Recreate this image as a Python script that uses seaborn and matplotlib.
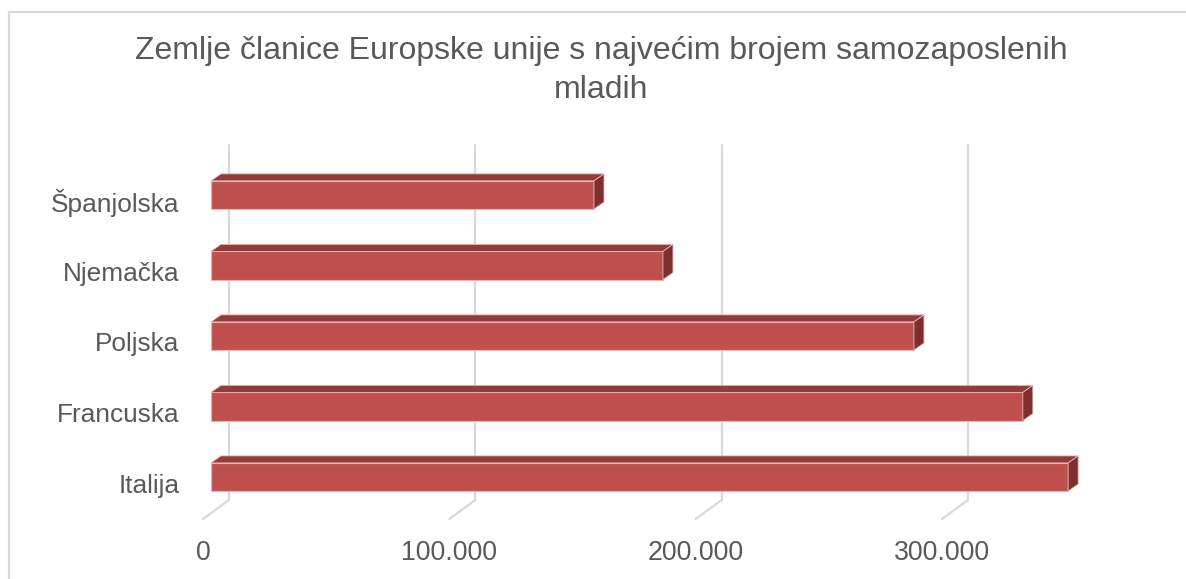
import numpy as np
import pandas as pd
import matplotlib
matplotlib.use("Agg")
import matplotlib.pyplot as plt
from matplotlib.patches import Polygon, Rectangle
import seaborn as sns

# data
countries = ["Španjolska", "Njemačka", "Poljska", "Francuska", "Italija"]
self_employed = [155500, 183500, 285400, 329600, 348000]
tick_values = [0, 100000, 200000, 300000]
tick_labels = ["0", "100.000", "200.000", "300.000"]

TEXT = "#595959"
FRONT = "#C0504D"
TOP = "#933B39"
SIDE = "#7E2F2D"
GRID = "#D9D9D9"

sns.set_theme(style="white")
plt.rcParams["font.family"] = ["Liberation Sans", "DejaVu Sans"]

df = pd.DataFrame({"country": countries, "value": self_employed})

fig = plt.figure(figsize=(11.86, 5.79), dpi=100)
ax = fig.add_axes([0.1675, 0.0848, 0.7996, 0.6698])

sns.barplot(data=df, y="country", x="value", orient="h", color=FRONT,
            saturation=1, width=0.4, edgecolor="#E8B5B4", linewidth=0.8, ax=ax)

ax.set_xlim(-5000, 380000)
ax.set_ylim(4.75, -0.75)

# pseudo 3D depth, in data units
px_x = 1000 / 2.463   # data units per pixel along x
px_y = 1 / 70.5       # category units per pixel along y
dx, dy = 10 * px_x, 7 * px_y

for bar in ax.patches[:len(countries)]:
    x0, w = bar.get_x(), bar.get_width()
    y0, h = bar.get_y(), bar.get_height()
    ytop, ybot = y0, y0 + h
    top = Polygon([(x0, ytop), (x0 + dx, ytop - dy), (x0 + w + dx, ytop - dy), (x0 + w, ytop)],
                  closed=True, facecolor=TOP, edgecolor="#E8B5B4", lw=0.6, zorder=bar.get_zorder())
    side = Polygon([(x0 + w, ytop), (x0 + w + dx, ytop - dy), (x0 + w + dx, ybot - dy), (x0 + w, ybot)],
                   closed=True, facecolor=SIDE, edgecolor="#E8B5B4", lw=0.6, zorder=bar.get_zorder())
    ax.add_patch(top)
    ax.add_patch(side)

# back wall gridlines plus floor diagonals
back = 18 * px_x
front = -8 * px_x
grid_top = (145 - 195) * px_y
for t in tick_values:
    ax.plot([t + back, t + back], [grid_top, 4.326], color=GRID, lw=1.6, zorder=0)
    ax.plot([t + back, t + front], [4.326, 4.596], color=GRID, lw=1.6, zorder=0)

# labels sit on the front edge of the floor
ax.set_xticks([t + front for t in tick_values])
ax.set_xticklabels(tick_labels)
ax.set_yticks([i + 6 * px_y for i in range(len(countries))])
ax.set_yticklabels(countries)

ax.tick_params(axis="x", length=0, pad=7, labelsize=19.3, labelcolor=TEXT)
ax.tick_params(axis="y", length=0, pad=14, labelsize=18.9, labelcolor=TEXT)
ax.set_xlabel("")
ax.set_ylabel("")
ax.grid(False)
sns.despine(ax=ax, left=True, bottom=True)

fig.text(0.507, 1 - 36 / 579, "Zemlje članice Europske unije s najvećim brojem samozaposlenih\nmladih",
         ha="center", va="top", fontsize=23, color=TEXT, linespacing=1.4)

# chart area border (right and bottom run off the image)
fig.add_artist(Rectangle((9 / 1186, -0.1), 1.2, 1 - 12 / 579 + 0.1, transform=fig.transFigure,
                         fill=False, edgecolor=GRID, lw=1.6))

fig.savefig("out.png", dpi=100)
